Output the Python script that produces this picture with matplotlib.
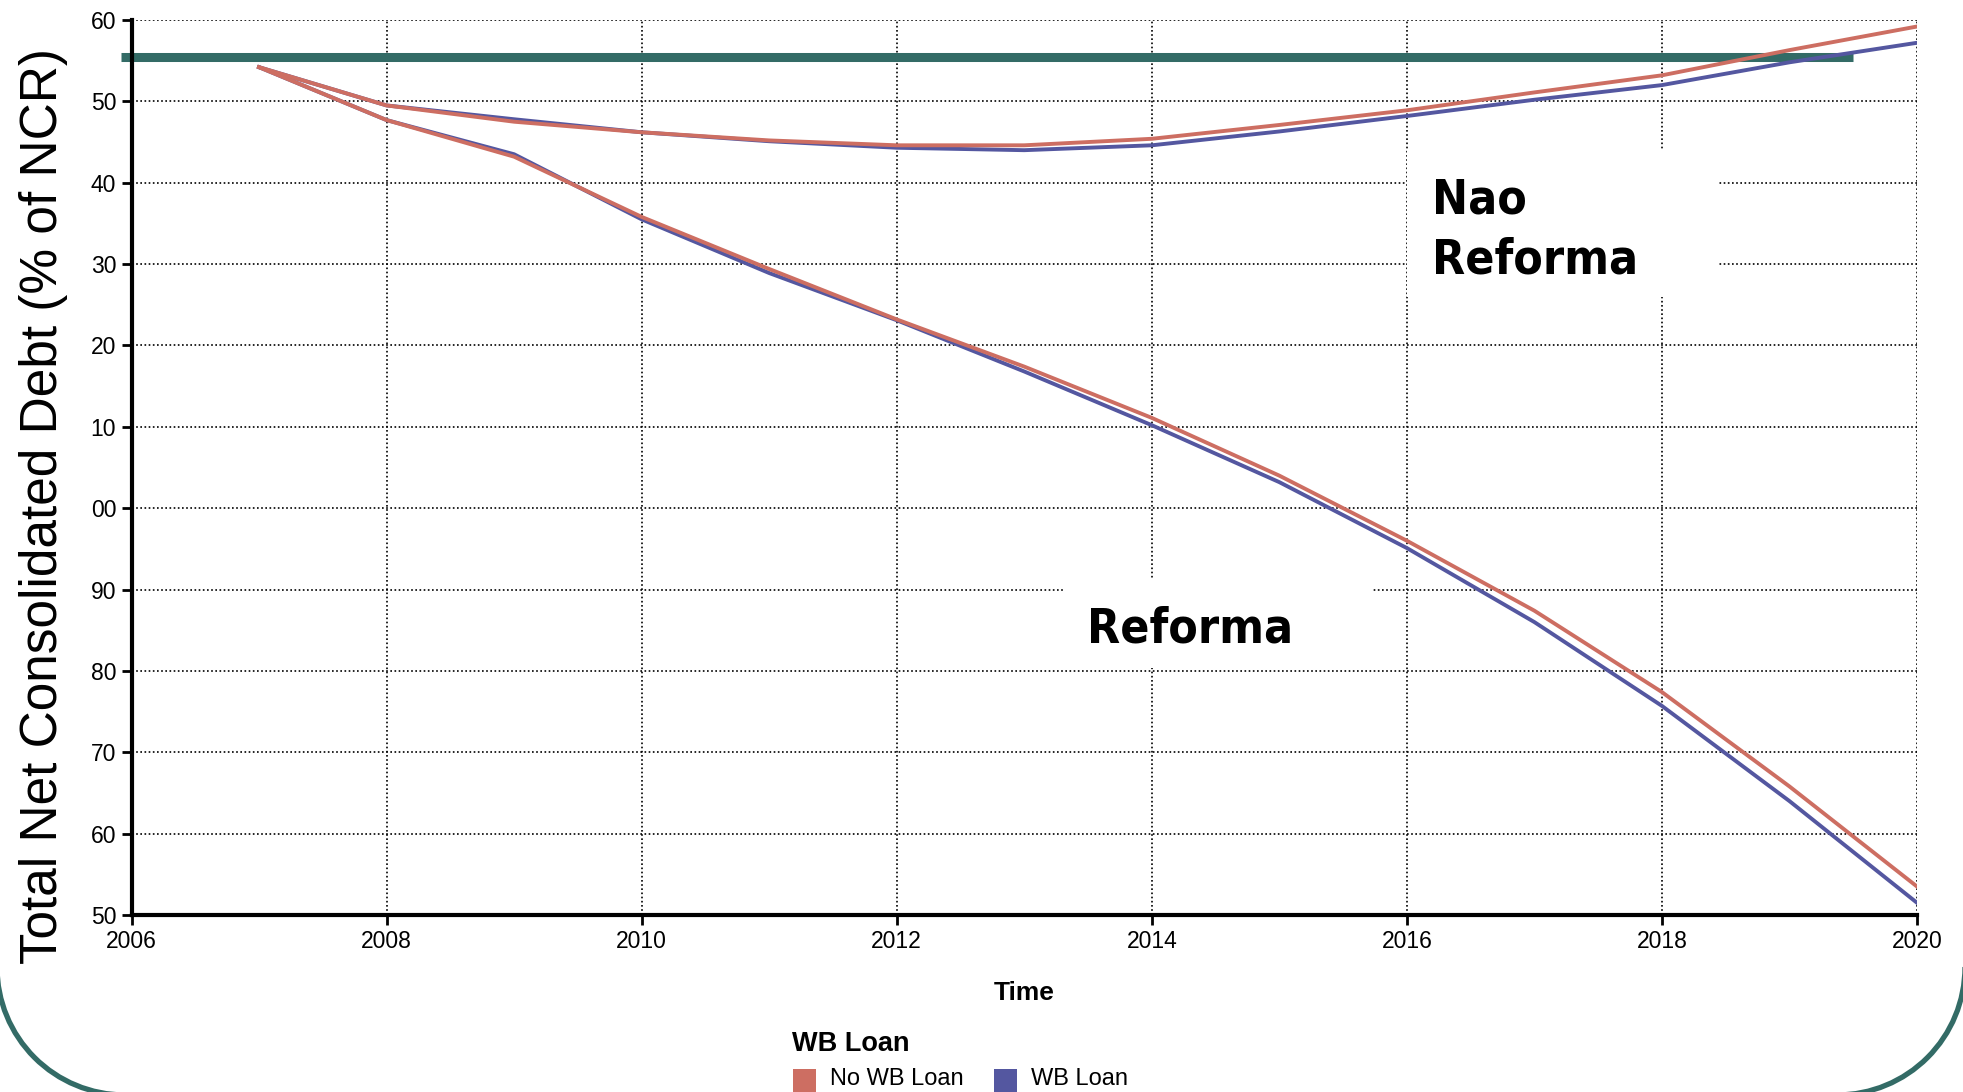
import matplotlib
matplotlib.use("Agg")
import matplotlib.pyplot as plt
from matplotlib.patches import Arc, Rectangle
from matplotlib.transforms import IdentityTransform

plt.rcParams['font.family'] = ['Liberation Sans', 'DejaVu Sans']

years = [2007, 2008, 2009, 2010, 2011, 2012, 2013, 2014, 2015, 2016, 2017, 2018, 2019, 2020]
nao_reforma_no_wb = [254.2, 249.5, 247.5, 246.2, 245.2, 244.6, 244.6, 245.4, 247.1, 248.9, 251.1, 253.2, 256.3, 259.2]
nao_reforma_wb = [254.2, 249.5, 247.8, 246.2, 245.1, 244.3, 244.0, 244.6, 246.3, 248.2, 250.2, 252.0, 254.8, 257.2]
reforma_no_wb = [254.2, 247.7, 243.2, 235.8, 229.4, 223.2, 217.4, 211.1, 204.0, 196.0, 187.4, 177.4, 165.8, 153.5]
reforma_wb = [254.2, 247.7, 243.5, 235.5, 228.9, 223.1, 216.8, 210.2, 203.2, 195.1, 186.0, 175.7, 164.0, 151.5]
limit_value = 255.5
limit_span = [2005.92, 2019.5]

x_ticks = [2006, 2008, 2010, 2012, 2014, 2016, 2018, 2020]
y_ticks = [150, 160, 170, 180, 190, 200, 210, 220, 230, 240, 250, 260]
y_tick_labels = ["50", "60", "70", "80", "90", "00", "10", "20", "30", "40", "50", "60"]
series_names = ["No WB Loan", "WB Loan"]
series_colors = ["#cd6e62", "#5457a0"]
teal = "#336b66"

W, H = 1963, 1092
fig = plt.figure(figsize=(W / 100, H / 100), dpi=100)
ax = fig.add_axes([131.5 / W, 1 - 915 / H, (1917 - 131.5) / W, (915 - 20) / H])

ax.plot(limit_span, [limit_value, limit_value], color=teal, lw=6.5, solid_capstyle='butt',
        clip_on=False, zorder=1.5)
ax.plot(years, nao_reforma_wb, color=series_colors[1], lw=2.8, zorder=2)
ax.plot(years, reforma_wb, color=series_colors[1], lw=2.8, zorder=2)
ax.plot(years, nao_reforma_no_wb, color=series_colors[0], lw=2.8, zorder=2.1)
ax.plot(years, reforma_no_wb, color=series_colors[0], lw=2.8, zorder=2.1)

ax.set_xlim(2006, 2020)
ax.set_ylim(150, 260)
ax.set_xticks(x_ticks)
ax.set_yticks(y_ticks)
ax.set_yticklabels(y_tick_labels)
ax.tick_params(labelsize=16.5, length=7, width=2, direction='out', pad=4)
ax.grid(True, color='black', linestyle=(0, (1, 1.5)), linewidth=1.2)
ax.set_axisbelow(True)
for s in ['top', 'right']:
    ax.spines[s].set_visible(False)
for s in ['left', 'bottom']:
    ax.spines[s].set_linewidth(3)

# white label boxes (cover gridlines)
ax.add_patch(Rectangle((2013.32, 180.4), 2.41, 11.0, facecolor='white', edgecolor='none', zorder=1.2))
ax.add_patch(Rectangle((2016.0, 226.0), 2.44, 18.0, facecolor='white', edgecolor='none', zorder=1.2))

label_font = dict(family='DejaVu Sans', fontstretch='condensed', fontweight='bold', fontsize=34.5)
ax.text(2013.49, 183.5, "Reforma", ha='left', va='baseline', zorder=3, **label_font)
ax.text(2016.2, 228.9, "Reforma", ha='left', va='baseline', zorder=3, **label_font)
ax.text(2016.2, 236.2, "Nao", ha='left', va='baseline', zorder=3, **label_font)

fig.text(44 / W, 1 - 506 / H, "Total Net Consolidated Debt (% of NCR)", rotation=90,
         fontsize=37, ha='center', va='center')
fig.text(1024 / W, 1 - 993 / H, "Time", fontsize=19, fontweight='bold', ha='center', va='center')

# legend
fig.text(792 / W, 1 - 1044 / H, "WB Loan", fontsize=19.5, fontweight='bold', ha='left', va='center')
patch_x = [793, 994]
for px, name, col in zip(patch_x, series_names, series_colors):
    fig.add_artist(Rectangle((px, 0), 23, 23, transform=IdentityTransform(),
                             facecolor=col, edgecolor='none'))
    fig.text((px + 37) / W, 1 - 1079 / H, name, fontsize=17, ha='left', va='center')

# rounded frame corners
R = 128
fig.add_artist(Arc((125, H - 967), 2 * R, 2 * R, theta1=180, theta2=270,
                   transform=IdentityTransform(), color=teal, lw=3.8))
fig.add_artist(Arc((1837, H - 967), 2 * R, 2 * R, theta1=270, theta2=360,
                   transform=IdentityTransform(), color=teal, lw=3.8))

fig.savefig("out.png", dpi=100)
